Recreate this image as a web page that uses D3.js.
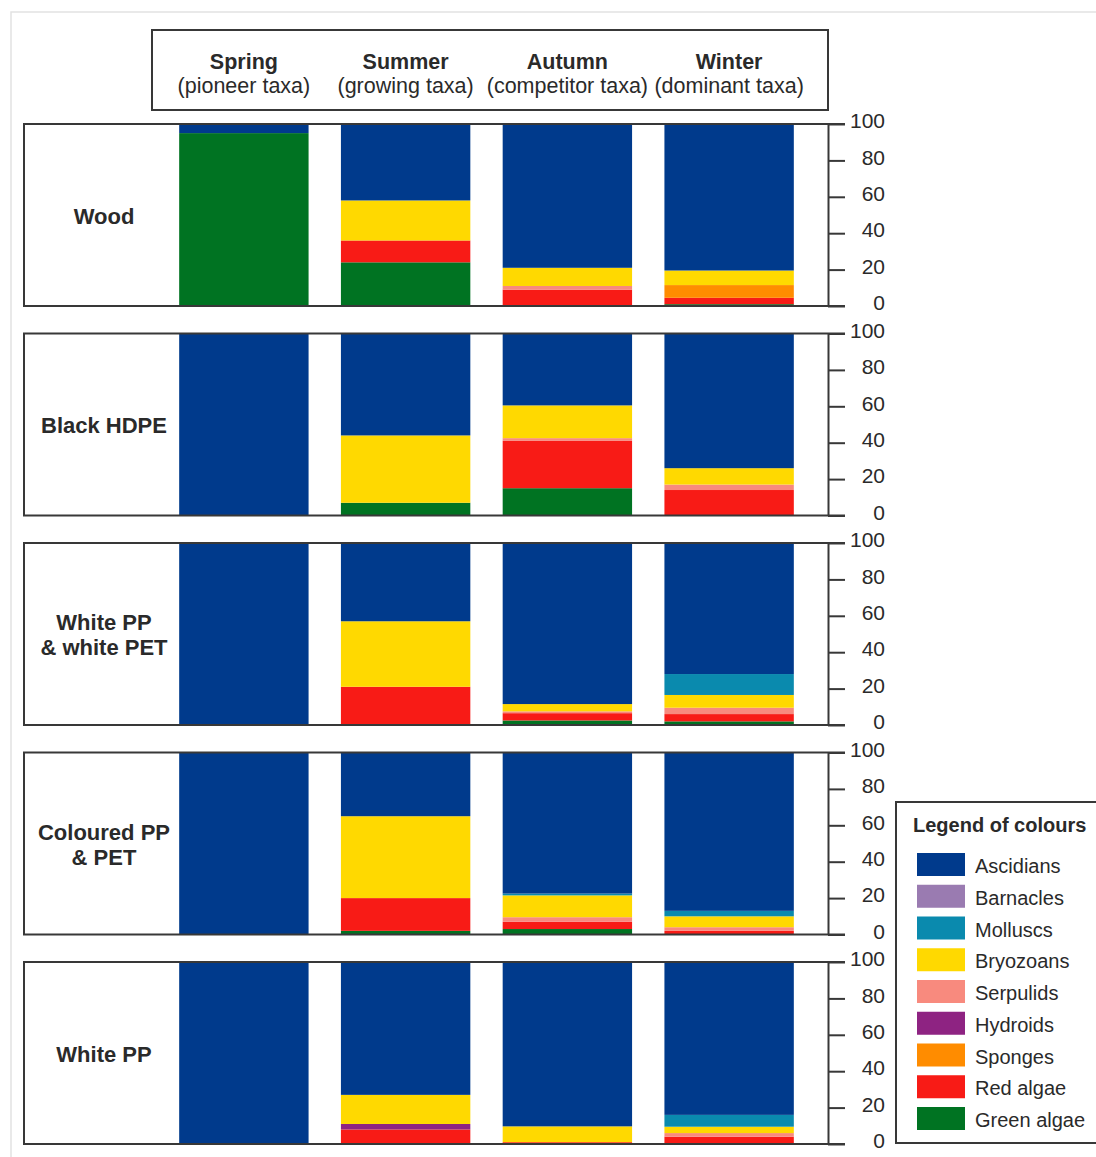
<!DOCTYPE html>
<html>
<head>
<meta charset="utf-8">
<script src="https://cdn.jsdelivr.net/npm/d3@7"></script>
<style>
  html, body { margin: 0; padding: 0; background: #fff; }
  svg { display: block; font-family: "Liberation Sans", Arial, sans-serif; }
</style>
</head>
<body>
<svg id="chart" width="1096" height="1157"></svg>
<script>
// Substrates (rows) and seasons (columns)
const substrates = [["Wood"], ["Black HDPE"], ["White PP", "& white PET"], ["Coloured PP", "& PET"], ["White PP"]];
const seasons = ["Spring", "Summer", "Autumn", "Winter"];
const seasonRoles = ["(pioneer taxa)", "(growing taxa)", "(competitor taxa)", "(dominant taxa)"];
const yTicks = [0, 20, 40, 60, 80, 100];

// Percentage cover of each taxon; one row per substrate, one value per season
const ascidians  = [[5, 42, 79, 80.5], [100, 56, 39.5, 74], [100, 43, 88.5, 72], [100, 35, 77.5, 87], [100, 73, 90.3, 84]];
const barnacles  = [[0, 0, 0, 0], [0, 0, 0, 0], [0, 0, 0, 0], [0, 0, 0, 0], [0, 0, 0, 0]];
const molluscs   = [[0, 0, 0, 0], [0, 0, 0, 0], [0, 0, 0, 11.5], [0, 0, 1, 3], [0, 0, 0, 6.5]];
const bryozoans  = [[0, 22, 10, 8], [0, 37, 18, 9], [0, 36, 4, 7], [0, 45, 12, 6], [0, 16, 8.7, 3.5]];
const serpulids  = [[0, 0, 2, 0], [0, 0, 1.5, 3], [0, 0, 1, 3.5], [0, 0, 2.5, 2], [0, 0, 0, 2]];
const hydroids   = [[0, 0, 0, 0], [0, 0, 0, 0], [0, 0, 0, 0], [0, 0, 0, 0], [0, 3, 0, 0]];
const sponges    = [[0, 0, 0, 7], [0, 0, 0, 0], [0, 0, 0, 0], [0, 0, 0, 0], [0, 0, 0, 0]];
const redAlgae   = [[0, 12, 9, 3.5], [0, 0, 26, 14], [0, 21, 4, 4], [0, 18, 4, 2], [0, 8, 1, 4]];
const greenAlgae = [[95, 24, 0, 1], [0, 7, 15, 0], [0, 0, 2.5, 2], [0, 2, 3, 0], [0, 0, 0, 0]];

const taxa = ["Ascidians", "Barnacles", "Molluscs", "Bryozoans", "Serpulids", "Hydroids", "Sponges", "Red algae", "Green algae"];
const taxaValues = [ascidians, barnacles, molluscs, bryozoans, serpulids, hydroids, sponges, redAlgae, greenAlgae];
const taxaColours = ["#003a8c", "#9a7bb1", "#0a8aae", "#ffd900", "#f88a7e", "#8e2382", "#ff8c00", "#f81b16", "#007322"];

const svg = d3.select("#chart");
const ink = "#2a2a2a";
const frame = "#383838";

// light outer frame
svg.append("rect").attr("x", 11).attr("y", 12).attr("width", 1100).attr("height", 1160)
  .attr("fill", "none").attr("stroke", "#e2e2e2").attr("stroke-width", 1.5);

const x = d3.scaleBand().domain(seasons).range([163, 810]).paddingInner(0.2).paddingOuter(0.1);
const colour = d3.scaleOrdinal().domain(taxa).range(taxaColours);

// season header box
const header = svg.append("g");
header.append("rect").attr("x", 152).attr("y", 30).attr("width", 676).attr("height", 80)
  .attr("fill", "none").attr("stroke", frame).attr("stroke-width", 2);
seasons.forEach((s, i) => {
  const cx = x(s) + x.bandwidth() / 2;
  header.append("text").attr("x", cx).attr("y", 69).attr("text-anchor", "middle")
    .attr("font-size", 21.5).attr("font-weight", "bold").attr("fill", ink).text(s);
  header.append("text").attr("x", cx).attr("y", 93).attr("text-anchor", "middle")
    .attr("font-size", 21.5).attr("fill", ink).text(seasonRoles[i]);
});

// stack order bottom -> top is the reverse of the legend order
const stackKeys = taxa.slice().reverse();
const stack = d3.stack().keys(stackKeys);

const panelTop0 = 124, panelStep = 209.5, panelH = 182;
const axisX = 828, leftX = 24, tickLen = 17;

substrates.forEach((lines, r) => {
  const top = panelTop0 + r * panelStep;
  const bottom = top + panelH;
  const y = d3.scaleLinear().domain([0, 100]).range([bottom, top]);
  const g = svg.append("g");

  const rows = seasons.map((s, c) => {
    const o = { season: s };
    taxa.forEach((t, k) => { o[t] = taxaValues[k][r][c]; });
    return o;
  });
  const series = stack(rows);

  g.selectAll("g.layer").data(series).join("g").attr("class", "layer")
    .attr("fill", d => colour(d.key))
    .selectAll("rect").data(d => d).join("rect")
    .attr("x", d => x(d.data.season))
    .attr("width", x.bandwidth())
    .attr("y", d => y(d[1]))
    .attr("height", d => Math.max(0, y(d[0]) - y(d[1])));

  // panel frame: top, left, bottom lines
  g.append("path")
    .attr("d", `M${axisX + tickLen},${top}H${leftX}V${bottom}H${axisX + tickLen}`)
    .attr("fill", "none").attr("stroke", frame).attr("stroke-width", 2);

  // right-hand percentage axis
  const ax = g.append("g").attr("transform", `translate(${axisX},0)`)
    .call(d3.axisRight(y).tickValues(yTicks).tickSize(tickLen).tickSizeOuter(0));
  ax.select(".domain").attr("stroke", frame).attr("stroke-width", 2);
  ax.selectAll(".tick line").attr("stroke", frame).attr("stroke-width", 2);
  ax.selectAll(".tick text").attr("x", 57).attr("y", -3).attr("text-anchor", "end")
    .attr("font-size", 21).attr("fill", ink).attr("font-family", "Liberation Sans, Arial, sans-serif");

  // substrate label
  const cy = (top + bottom) / 2;
  const lh = 25;
  lines.forEach((ln, i) => {
    g.append("text").attr("x", 104)
      .attr("y", cy + (i - (lines.length - 1) / 2) * lh + 1)
      .attr("dy", "0.35em").attr("text-anchor", "middle")
      .attr("font-size", 22).attr("font-weight", "bold").attr("fill", ink).text(ln);
  });
});

// legend
const lg = svg.append("g");
lg.append("rect").attr("x", 896).attr("y", 802).attr("width", 220).attr("height", 341)
  .attr("fill", "#fff").attr("stroke", frame).attr("stroke-width", 2);
lg.append("text").attr("x", 913).attr("y", 832).attr("font-size", 20).attr("font-weight", "bold")
  .attr("fill", ink).text("Legend of colours");
const items = lg.selectAll("g.item").data(taxa).join("g").attr("class", "item")
  .attr("transform", (d, i) => `translate(917,${853 + i * 31.75})`);
items.append("rect").attr("width", 48).attr("height", 23).attr("fill", d => colour(d));
items.append("text").attr("x", 58).attr("y", 13).attr("dy", "0.35em")
  .attr("font-size", 20).attr("fill", ink).text(d => d);
</script>
</body>
</html>
